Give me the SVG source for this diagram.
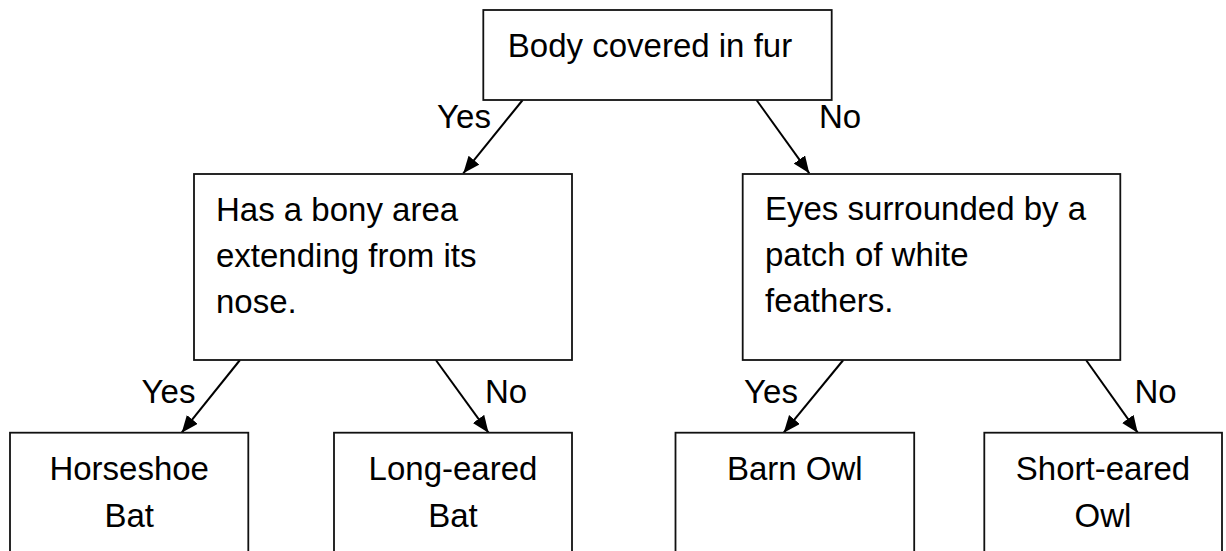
<svg xmlns="http://www.w3.org/2000/svg" width="1226" height="551" viewBox="0 0 1226 551">
<style>
.box{fill:#fff;stroke:#111;stroke-width:1.8}
.t{font-family:"Liberation Sans",Arial,sans-serif;font-size:33px;fill:#000}
.c{text-anchor:middle}
.edge{stroke:#000;stroke-width:2;fill:none;marker-end:url(#ah)}
</style>
<defs>
<marker id="ah" markerUnits="userSpaceOnUse" markerWidth="18" markerHeight="16" refX="17" refY="7" orient="auto">
<path d="M0,0 L17,7 L0,14 Z" fill="#000"/>
</marker>
</defs>
<rect width="1226" height="551" fill="#fff"/>
<g id="connectors">
<line class="edge" x1="522.7" y1="100" x2="463.3" y2="173.3"/>
<line class="edge" x1="756.5" y1="100" x2="809.3" y2="173.3"/>
<line class="edge" x1="240" y1="360" x2="181.7" y2="432.7"/>
<line class="edge" x1="435.8" y1="360" x2="488.5" y2="432.7"/>
<line class="edge" x1="843.3" y1="360" x2="783.7" y2="432.7"/>
<line class="edge" x1="1086" y1="360" x2="1137.7" y2="432.7"/>
<text class="t c" x="464" y="128">Yes</text>
<text class="t c" x="840" y="128">No</text>
<text class="t c" x="168.5" y="403">Yes</text>
<text class="t c" x="506" y="403">No</text>
<text class="t c" x="771" y="403">Yes</text>
<text class="t c" x="1155.5" y="403">No</text>
</g>
<g id="n-root">
<rect class="box" x="483.3" y="10" width="348.4" height="90"/>
<text class="t c" x="650" y="57">Body covered in fur</text>
</g>
<g id="n-bony">
<rect class="box" x="194" y="174" width="378" height="186"/>
<text class="t" x="216" y="221">Has a bony area</text>
<text class="t" x="216" y="267">extending from its</text>
<text class="t" x="216" y="313">nose.</text>
</g>
<g id="n-eyes">
<rect class="box" x="742.7" y="174" width="377.6" height="186"/>
<text class="t" x="765" y="220">Eyes surrounded by a</text>
<text class="t" x="765" y="266">patch of white</text>
<text class="t" x="765" y="312">feathers.</text>
</g>
<g id="n-horseshoe">
<rect class="box" x="10" y="432.7" width="238.3" height="130"/>
<text class="t c" x="129.2" y="480">Horseshoe</text>
<text class="t c" x="129.2" y="527">Bat</text>
</g>
<g id="n-longeared">
<rect class="box" x="334" y="432.7" width="238" height="130"/>
<text class="t c" x="453" y="480">Long-eared</text>
<text class="t c" x="453" y="527">Bat</text>
</g>
<g id="n-barnowl">
<rect class="box" x="675.5" y="432.7" width="238.7" height="130"/>
<text class="t c" x="794.8" y="480">Barn Owl</text>
</g>
<g id="n-shorteared">
<rect class="box" x="984.3" y="432.7" width="237.7" height="130"/>
<text class="t c" x="1103" y="480">Short-eared</text>
<text class="t c" x="1103" y="527">Owl</text>
</g>
</svg>
